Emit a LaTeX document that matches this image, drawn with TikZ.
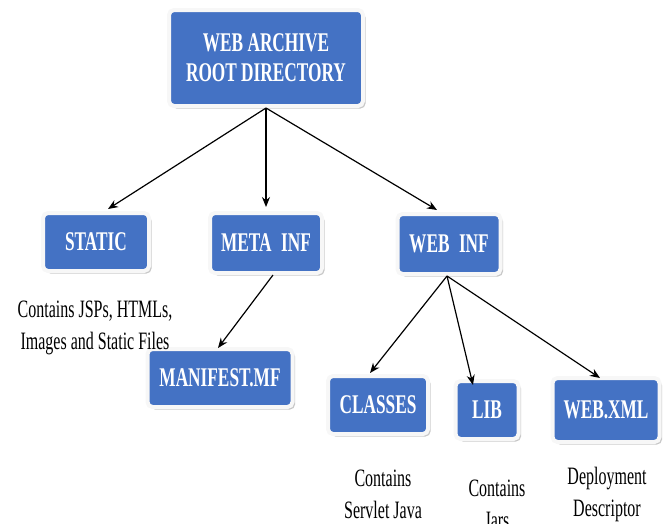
\documentclass[tikz,border=0pt]{standalone}
\usepackage{fontspec}
\setmainfont{Liberation Serif}[FakeStretch=0.64]
\usetikzlibrary{arrows.meta,shadows}
\definecolor{boxblue}{HTML}{4472C4}
\tikzset{
  dirbox/.style={fill=boxblue, draw=gray!6, line width=4pt, rounded corners=5pt,
    text=white, font=\bfseries\fontsize{27}{30}\selectfont, align=center,
    inner sep=0pt,
    drop shadow={shadow xshift=2.5pt, shadow yshift=-2.5pt, fill=gray!55, opacity=0.8}},
  note/.style={font=\fontsize{25}{32}\selectfont, align=center, text=black},
  link/.style={-{Stealth[length=10pt,width=8pt]}, line width=1.2pt, black}
}
\begin{document}
\begin{tikzpicture}[x=1pt,y=-1pt]
\useasboundingbox (0,0) rectangle (672,523);
% directory boxes
\node[dirbox, minimum width=194, minimum height=96] (root) at (266,58) {WEB ARCHIVE\\ROOT DIRECTORY};
\node[dirbox, minimum width=106, minimum height=58] (static) at (96,242) {STATIC};
\node[dirbox, minimum width=112, minimum height=60] (meta) at (266,243) {META\hspace{0.35em}INF};
\node[dirbox, minimum width=103, minimum height=60] (webinf) at (449,244) {WEB\hspace{0.35em}INF};
\node[dirbox, minimum width=145, minimum height=58] (manifest) at (220,378) {MANIFEST.MF};
\node[dirbox, minimum width=100, minimum height=58] (classes) at (378,405) {CLASSES};
\node[dirbox, minimum width=63, minimum height=58] (lib) at (487,410) {LIB};
\node[dirbox, minimum width=107, minimum height=64] (webxml) at (606,410) {WEB.XML};
% descriptions
\node[note] (staticnote) at (95,328) {Contains JSPs, HTMLs,\\Images and Static Files};
\node[note] (classesnote) at (383,494) {Contains\\Servlet Java};
\node[note] (libnote) at (497,504) {Contains\\Jars};
\node[note] (webxmlnote) at (607,494) {Deployment\\Descriptor};
% connectors
\draw[link] (root.south) -- ([xshift=12pt,yshift=2pt]static.north);
\draw[link] (root.south) -- ([yshift=4pt]meta.north);
\draw[link] (root.south) -- ([xshift=-12pt,yshift=2pt]webinf.north);
\draw[link] ([xshift=7pt]meta.south) -- ([xshift=-2pt,yshift=-1pt]manifest.north);
\draw[link] ([xshift=-2pt]webinf.south) -- ([xshift=-8pt,yshift=1pt]classes.north);
\draw[link] ([xshift=-2pt]webinf.south) -- ([xshift=-14pt,yshift=-6pt]lib.north);
\draw[link] ([xshift=-2pt]webinf.south) -- ([xshift=-6pt,yshift=-2pt]webxml.north);
\end{tikzpicture}
\end{document}
